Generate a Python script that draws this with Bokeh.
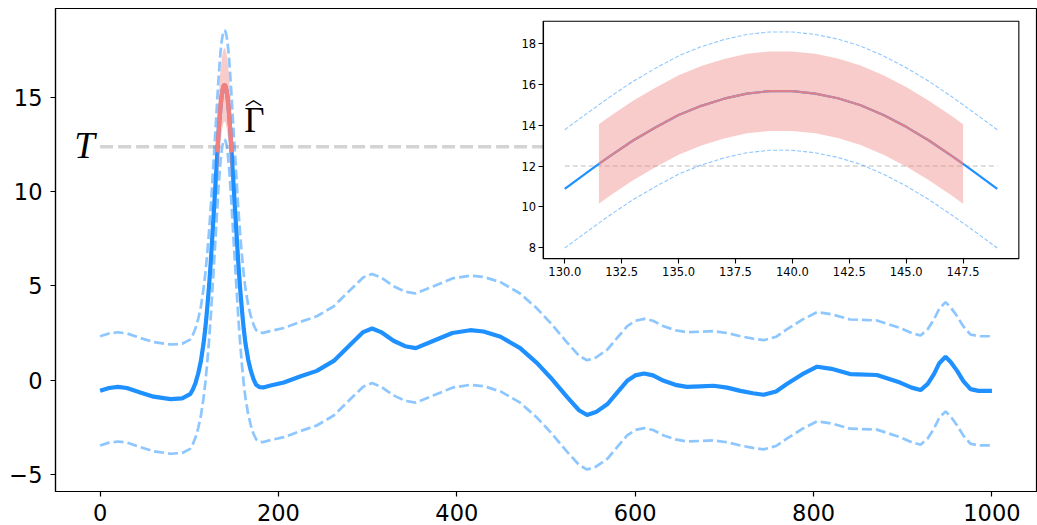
import numpy as np
from bokeh.plotting import figure
from bokeh.models import Range1d, LinearAxis, FixedTicker, Label, PrintfTickFormatter
from bokeh.embed import file_html
from bokeh.resources import INLINE

# ---------------- data ----------------
x_left = [0, 10, 20, 30, 45, 60, 79, 92, 101, 104, 107, 110, 113, 116, 118, 120, 122, 124, 126, 128]
m_left = [-0.57, -0.42, -0.36, -0.42, -0.66, -0.88, -1.01, -0.97, -0.75, -0.5, -0.15, 0.35, 1.0,
          1.95, 2.75, 3.75, 4.9, 6.2, 7.75, 9.3]

x_peak = [130, 131, 131.5, 132, 133, 134, 135, 136, 137, 138, 139, 140, 141, 142, 143, 144, 145,
          146, 147, 147.5, 148, 149]
m_peak = [10.88, 11.7, 12.1, 12.5, 13.25, 13.9, 14.5, 14.95, 15.3, 15.55, 15.67, 15.67, 15.55,
          15.32, 14.98, 14.5, 13.92, 13.25, 12.5, 12.1, 11.7, 10.88]

x_right = [151, 153, 155, 157, 159, 161, 163, 166, 169, 172, 175, 179, 183, 190, 206, 225, 243, 262,
           281, 295, 305, 315, 329, 342, 354, 374, 395, 415, 430, 449, 471, 490, 505, 524, 537, 546,
           556, 569, 580, 591, 600, 610, 620, 632, 645, 658, 673, 688, 703, 718, 732, 744, 758, 770,
           787, 804, 820, 841, 871, 897, 910, 920, 928, 935, 941, 948, 954, 961, 968, 976, 985, 1000]
m_right = [9.3, 7.75, 6.2, 4.9, 3.75, 2.75, 1.95, 1.1, 0.5, 0.05, -0.25, -0.38, -0.39, -0.3, -0.13,
           0.2, 0.49, 1.02, 1.91, 2.55, 2.74, 2.55, 2.09, 1.8, 1.70, 2.09, 2.5, 2.65, 2.58, 2.3, 1.7,
           0.9, 0.14, -0.92, -1.6, -1.85, -1.7, -1.27, -0.65, -0.04, 0.25, 0.35, 0.25, -0.04, -0.25,
           -0.36, -0.33, -0.30, -0.4, -0.57, -0.7, -0.78, -0.6, -0.21, 0.3, 0.71, 0.6, 0.32, 0.27,
           -0.13, -0.4, -0.53, -0.2, 0.32, 0.9, 1.24, 0.95, 0.49, -0.05, -0.48, -0.57, -0.57]

band_half = 2.9        # half width of the dashed confidence band
red_half = 1.95        # half width of the pink band around the excursion
T_main = 12.4          # threshold line on the main panel
T_inset = 12.0         # threshold line in the inset
red_from, red_to = 131.5, 147.5

x_ticks = [0, 200, 400, 600, 800, 1000]
y_ticks = [-5, 0, 5, 10, 15]
inset_x_ticks = [130.0, 132.5, 135.0, 137.5, 140.0, 142.5, 145.0, 147.5]
inset_y_ticks = [8, 10, 12, 14, 16, 18]

# ---------------- derived arrays ----------------
x_main = np.array(x_left + x_peak + x_right, dtype=float)
m_main = np.array(m_left + m_peak + m_right, dtype=float)
up_main = m_main + band_half
lo_main = m_main - band_half
red_mask = (x_main >= red_from) & (x_main <= red_to)

xi = np.array(x_peak, dtype=float)
mi = np.array(m_peak, dtype=float)
up_i = mi + band_half
lo_i = mi - band_half
imask = (xi >= red_from) & (xi <= red_to)

def padded(lo, hi, f=0.05):
    d = (hi - lo) * f
    return lo - d, hi + d

xlo, xhi = padded(x_main.min(), x_main.max())
ylo, yhi = padded(lo_main.min(), up_main.max())
ix0, ix1 = padded(xi.min(), xi.max())
iy0, iy1 = padded(lo_i.min(), up_i.max())

# inset box as fractions of the main frame
fx0, fx1, fy0, fy1 = 0.4971, 0.9820, 0.4818, 0.9737
Sx = (ix1 - ix0) / (fx1 - fx0)
Sy = (iy1 - iy0) / (fy1 - fy0)
ixs = ix0 - fx0 * Sx
iys = iy0 - fy0 * Sy

# ---------------- figure ----------------
p = figure(width=1037, height=525, output_backend="svg", toolbar_location=None,
           x_range=Range1d(xlo, xhi), y_range=Range1d(ylo, yhi),
           min_border_left=55, min_border_right=1, min_border_top=8, min_border_bottom=34)
p.extra_x_ranges = {"ix": Range1d(ixs, ixs + Sx)}
p.extra_y_ranges = {"iy": Range1d(iys, iys + Sy)}
p.grid.visible = False
p.outline_line_color = "black"
p.outline_line_width = 1.2
p.background_fill_color = "white"
p.border_fill_color = "white"

for ax in (p.xaxis[0], p.yaxis[0]):
    ax.major_tick_out = 5
    ax.major_tick_in = 0
    ax.minor_tick_out = 0
    ax.minor_tick_in = 0
    ax.axis_line_color = "black"
    ax.axis_line_width = 1.2
    ax.major_tick_line_color = "black"
    ax.major_tick_line_width = 1.2
    ax.major_label_text_font = "DejaVu Sans"
    ax.major_label_text_font_size = "22.5px"
    ax.major_label_text_color = "black"
p.xaxis[0].ticker = FixedTicker(ticks=x_ticks)
p.yaxis[0].ticker = FixedTicker(ticks=y_ticks)
p.yaxis[0].major_label_overrides = {t: str(t).replace("-", "\u2212") for t in y_ticks}
p.xaxis[0].major_label_standoff = 7
p.yaxis[0].major_label_standoff = 8

BLUE = "#1E90FF"
CORAL = "#F08080"
GRAY = "#D3D3D3"

# main panel
p.line([x_main[0], x_main[-1]], [T_main, T_main], line_color=GRAY, line_width=3.5, line_dash="13 5")
p.line(x_main, up_main, line_color=BLUE, line_alpha=0.5, line_width=2.7, line_dash="10 4")
p.line(x_main, lo_main, line_color=BLUE, line_alpha=0.5, line_width=2.7, line_dash="10 4")
p.line(x_main, m_main, line_color=BLUE, line_width=4.2)
p.varea(x_main[red_mask], m_main[red_mask] - red_half, m_main[red_mask] + red_half,
        fill_color=CORAL, fill_alpha=0.4)
p.line(x_main[red_mask], m_main[red_mask], line_color=CORAL, line_width=4.2)

p.add_layout(Label(x=-17.5, y=12.47, text="T", text_font="Liberation Serif", text_font_style="italic",
                   text_font_size="37px", text_align="center", text_baseline="alphabetic",
                   text_color="black"))
p.add_layout(Label(x=173, y=13.79, text="\u0393", text_font="Liberation Serif",
                   text_font_size="35px", text_align="center", text_baseline="alphabetic",
                   text_color="black"))
p.add_layout(Label(x=172, y=15.0, text="\ufe3f", text_font="Noto Sans CJK JP",
                   text_font_size="17px", text_align="center", text_baseline="middle",
                   text_color="black"))

# inset panel
R = dict(x_range_name="ix", y_range_name="iy")
p.quad(left=ix0, right=ix1, bottom=iy0, top=iy1, fill_color="white", line_color="black",
       line_width=1.1, **R)
p.line([xi[0], xi[-1]], [T_inset, T_inset], line_color=GRAY, line_width=1.6, line_dash="5 3", **R)
p.line(xi, up_i, line_color=BLUE, line_alpha=0.5, line_width=1.1, line_dash="4 2", **R)
p.line(xi, lo_i, line_color=BLUE, line_alpha=0.5, line_width=1.1, line_dash="4 2", **R)
p.varea(xi[imask], mi[imask] - red_half, mi[imask] + red_half, fill_color=CORAL, fill_alpha=0.4, **R)
p.line(xi, mi, line_color=BLUE, line_width=2.2, **R)
p.line(xi[imask], mi[imask], line_color=CORAL, line_alpha=0.9, line_width=2.2, **R)

iax = LinearAxis(x_range_name="ix", y_range_name="iy", fixed_location=iy0, bounds=(ix0, ix1),
                 ticker=FixedTicker(ticks=inset_x_ticks), formatter=PrintfTickFormatter(format="%.1f"))
iay = LinearAxis(x_range_name="ix", y_range_name="iy", fixed_location=ix0, bounds=(iy0, iy1),
                 ticker=FixedTicker(ticks=inset_y_ticks))
for ax in (iax, iay):
    ax.major_tick_out = 5
    ax.major_tick_in = 0
    ax.minor_tick_out = 0
    ax.minor_tick_in = 0
    ax.axis_line_color = "black"
    ax.axis_line_width = 1.1
    ax.major_tick_line_color = "black"
    ax.major_tick_line_width = 1.1
    ax.major_label_text_font = "DejaVu Sans"
    ax.major_label_text_font_size = "11.5px"
    ax.major_label_text_color = "black"
iax.major_label_standoff = 3
iay.major_label_standoff = 2
p.add_layout(iax, "below")
p.add_layout(iay, "left")

open("out.html", "w").write(file_html(p, INLINE))
